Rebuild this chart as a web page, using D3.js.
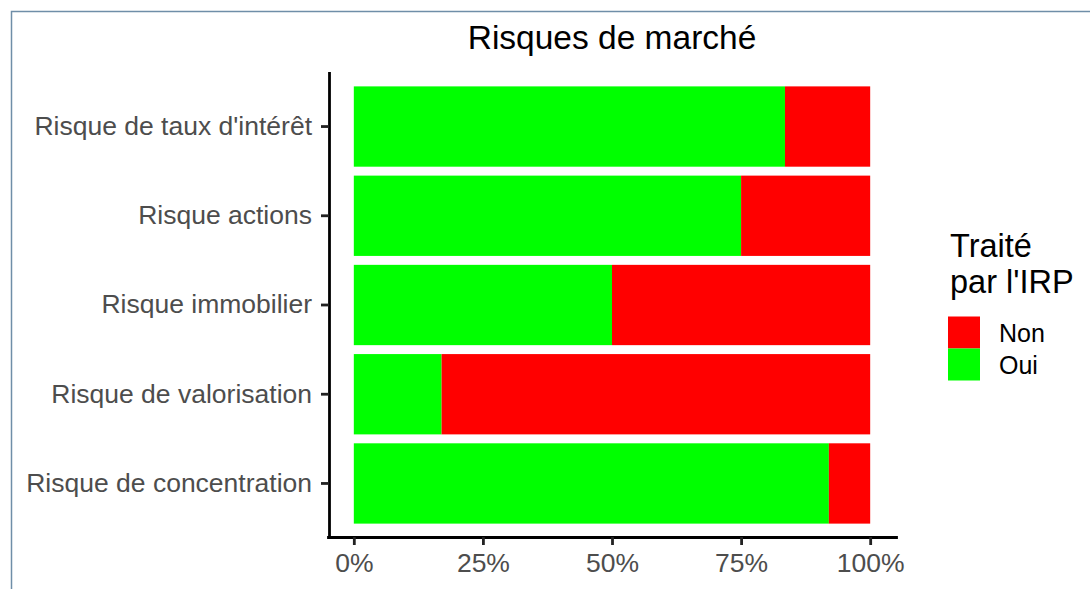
<!DOCTYPE html>
<html>
<head>
<meta charset="utf-8">
<script src="https://cdn.jsdelivr.net/npm/d3@7.9.0/dist/d3.min.js"></script>
<style>
  body { margin: 0; background: #fff; }
  svg { display: block; font-family: "Liberation Sans", Arial, sans-serif; }
</style>
</head>
<body>
<svg width="1090" height="589"></svg>
<script>
// data
const categories = [
  "Risque de taux d'intérêt",
  'Risque actions',
  'Risque immobilier',
  'Risque de valorisation',
  'Risque de concentration',
];
const oui = [0.835, 0.75, 0.5, 0.17, 0.92];
const non = [0.165, 0.25, 0.5, 0.83, 0.08];
const responses = ['Non', 'Oui'];
const xTicks = [0, 0.25, 0.5, 0.75, 1];

const svg = d3.select('svg');

// outer frame of the screenshot
svg.append('rect')
  .attr('x', 11.5).attr('y', 11.5)
  .attr('width', 1100).attr('height', 600)
  .attr('fill', '#fff')
  .attr('stroke', '#6f8ea8')
  .attr('stroke-width', 1.5);

let rows = categories.map((c, i) => ({ cat: c, Oui: oui[i], Non: non[i] }));
let stacked = d3.stack().keys(['Oui', 'Non'])(rows);

let x = d3.scaleLinear().domain([-0.05, 1.05]).range([328, 896]);
let y = d3.scaleBand().domain(categories).range([73, 537])
  .paddingInner(0.1).paddingOuter(0.15);
let colors = d3.scaleOrdinal().domain(responses).range(['#ff0000', '#00ff00']);

// bars
stacked.forEach((layer) => {
  svg.append('g')
    .selectAll('rect')
    .data(layer)
    .join('rect')
    .attr('x', (d) => x(d[0]))
    .attr('width', (d) => x(d[1]) - x(d[0]))
    .attr('y', (d) => y(d.data.cat))
    .attr('height', y.bandwidth())
    .attr('fill', colors(layer.key));
});

// axes
let xAxis = svg.append('g')
  .attr('transform', 'translate(0,537)')
  .call(d3.axisBottom(x).tickValues(xTicks).tickFormat(d3.format('.0%'))
    .tickSize(8).tickSizeOuter(0).tickPadding(8));

let yAxis = svg.append('g')
  .attr('transform', 'translate(329,0)')
  .call(d3.axisLeft(y).tickSize(8).tickSizeOuter(0).tickPadding(9));

[xAxis, yAxis].forEach((g) => {
  g.select('.domain').attr('stroke', '#000').attr('stroke-width', 2.8)
    .attr('stroke-linecap', 'square');
  g.selectAll('.tick line').attr('stroke', '#222').attr('stroke-width', 2.8);
  g.selectAll('.tick text')
    .attr('fill', '#4d4d4d')
    .style('font-size', '26.5px')
    .style('font-family', '"Liberation Sans", Arial, sans-serif');
});

// title
svg.append('text')
  .attr('x', (x.range()[0] + x.range()[1]) / 2)
  .attr('y', 49)
  .attr('text-anchor', 'middle')
  .attr('fill', '#000')
  .style('font-size', '33.5px')
  .text('Risques de marché');

// legend
let legend = svg.append('g').attr('transform', 'translate(948,0)');
legend.append('text')
  .attr('x', 2).attr('y', 257)
  .style('font-size', '32.5px')
  .text('Traité');
legend.append('text')
  .attr('x', 2).attr('y', 293)
  .style('font-size', '32.5px')
  .text("par l'IRP");

responses.forEach((r, i) => {
  legend.append('rect')
    .attr('x', 0).attr('y', 316.5 + i * 32)
    .attr('width', 32).attr('height', 32)
    .attr('fill', colors(r));
  legend.append('text')
    .attr('x', 51).attr('y', 341.5 + i * 32.5)
    .style('font-size', '25px')
    .text(r);
});
</script>
</body>
</html>
